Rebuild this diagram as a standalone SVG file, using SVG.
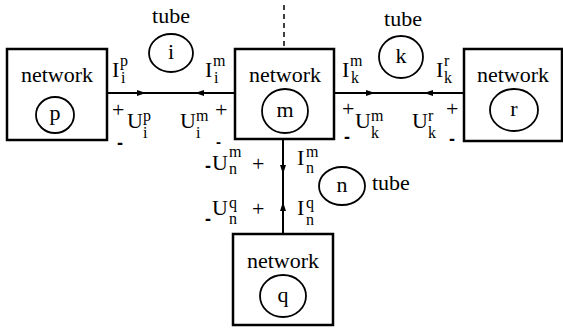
<svg xmlns="http://www.w3.org/2000/svg" width="563" height="328" viewBox="0 0 563 328">
<defs>
<marker id="ah" markerWidth="9" markerHeight="6" refX="8" refY="3" orient="auto" markerUnits="userSpaceOnUse">
<path d="M0,0 L9,3 L0,6 Z" fill="#000"/>
</marker>
</defs>
<g id="connectors" stroke="#000" stroke-width="2" fill="none">
<line x1="107" y1="93" x2="235" y2="93"/>
<line x1="107" y1="93" x2="145" y2="93" marker-end="url(#ah)"/>
<line x1="235" y1="93" x2="196" y2="93" marker-end="url(#ah)"/>
<line x1="334" y1="93" x2="464" y2="93"/>
<line x1="334" y1="93" x2="374" y2="93" marker-end="url(#ah)"/>
<line x1="464" y1="93" x2="425" y2="93" marker-end="url(#ah)"/>
<line x1="283" y1="139" x2="283" y2="234"/>
<line x1="283" y1="139" x2="283" y2="173" marker-end="url(#ah)"/>
<line x1="283" y1="234" x2="283" y2="203" marker-end="url(#ah)"/>
<line x1="284" y1="5" x2="284" y2="49" stroke-width="1.5" stroke-dasharray="5,4"/>
</g>
<g font-family="Liberation Serif, DejaVu Serif, serif" font-size="22" fill="#000">
<g id="network-p">
<rect x="7" y="49" width="100" height="91" fill="#fff" stroke="#000" stroke-width="2.5"/>
<text x="57" y="82" text-anchor="middle">network</text>
<ellipse cx="55" cy="115" rx="19" ry="18" fill="none" stroke="#000" stroke-width="1.8"/>
<text x="55" y="120" text-anchor="middle">p</text>
</g>
<g id="network-m">
<rect x="235" y="49" width="99" height="90" fill="#fff" stroke="#000" stroke-width="2.5"/>
<text x="285" y="82" text-anchor="middle">network</text>
<ellipse cx="285" cy="111" rx="23" ry="22" fill="none" stroke="#000" stroke-width="1.8"/>
<text x="285" y="117" text-anchor="middle">m</text>
</g>
<g id="network-r">
<rect x="464" y="49" width="98" height="92" fill="#fff" stroke="#000" stroke-width="2.5"/>
<text x="513" y="82" text-anchor="middle">network</text>
<ellipse cx="514" cy="110" rx="24" ry="21" fill="none" stroke="#000" stroke-width="1.8"/>
<text x="514" y="116" text-anchor="middle">r</text>
</g>
<g id="network-q">
<rect x="233" y="234" width="100" height="91" fill="#fff" stroke="#000" stroke-width="2.5"/>
<text x="283" y="268" text-anchor="middle">network</text>
<ellipse cx="283" cy="296" rx="23" ry="21" fill="none" stroke="#000" stroke-width="1.8"/>
<text x="283" y="302" text-anchor="middle">q</text>
</g>
<g id="tube-i">
<text x="171" y="23" text-anchor="middle">tube</text>
<ellipse cx="171" cy="53" rx="22" ry="19" fill="none" stroke="#000" stroke-width="1.8"/>
<text x="171" y="59" text-anchor="middle">i</text>
</g>
<g id="tube-k">
<text x="403" y="26" text-anchor="middle">tube</text>
<ellipse cx="401" cy="57" rx="22" ry="21" fill="none" stroke="#000" stroke-width="1.8"/>
<text x="401" y="63" text-anchor="middle">k</text>
</g>
<g id="tube-n">
<text x="372" y="190">tube</text>
<ellipse cx="342" cy="186" rx="23" ry="19" fill="none" stroke="#000" stroke-width="1.8"/>
<text x="342" y="192" text-anchor="middle">n</text>
</g>
<g id="labels">
<text x="112" y="77">I</text><text font-size="16" x="120" y="66">p</text><text font-size="16" x="121" y="83">i</text>
<text x="205" y="77">I</text><text font-size="16" x="213" y="66">m</text><text font-size="16" x="214" y="83">i</text>
<text x="342" y="77">I</text><text font-size="16" x="350" y="66">m</text><text font-size="16" x="351" y="83">k</text>
<text x="436" y="77">I</text><text font-size="16" x="444" y="66">r</text><text font-size="16" x="444" y="83">k</text>
<text x="112" y="117">+</text><text x="127" y="128">U</text><text font-size="16" x="143" y="121">p</text><text font-size="16" x="143" y="138">i</text>
<text x="180" y="128">U</text><text font-size="16" x="196" y="121">m</text><text font-size="16" x="196" y="138">i</text><text x="215" y="117">+</text>
<text x="342" y="116">+</text><text x="355" y="128">U</text><text font-size="16" x="371" y="121">m</text><text font-size="16" x="371" y="138">k</text>
<text x="412" y="128">U</text><text font-size="16" x="428" y="121">r</text><text font-size="16" x="428" y="138">k</text><text x="446" y="116">+</text>
<text x="212" y="170">U</text><text font-size="16" x="229" y="157">m</text><text font-size="16" x="229" y="174">n</text><text x="252" y="171">+</text>
<text x="297" y="165">I</text><text font-size="16" x="306" y="157">m</text><text font-size="16" x="306" y="173">n</text>
<text x="212" y="215">U</text><text font-size="16" x="229" y="208">q</text><text font-size="16" x="229" y="224">n</text><text x="252" y="216">+</text>
<text x="297" y="215">I</text><text font-size="16" x="306" y="208">q</text><text font-size="16" x="306" y="225">n</text>
<g font-family="Liberation Sans, DejaVu Sans, sans-serif" font-weight="bold" font-size="18">
<text x="117" y="149">-</text><text x="216" y="147" font-size="15">-</text><text x="344" y="143">-</text><text x="449" y="145">-</text>
<text x="205" y="172">-</text><text x="205" y="225">-</text>
</g>
</g>
</g>
</svg>
